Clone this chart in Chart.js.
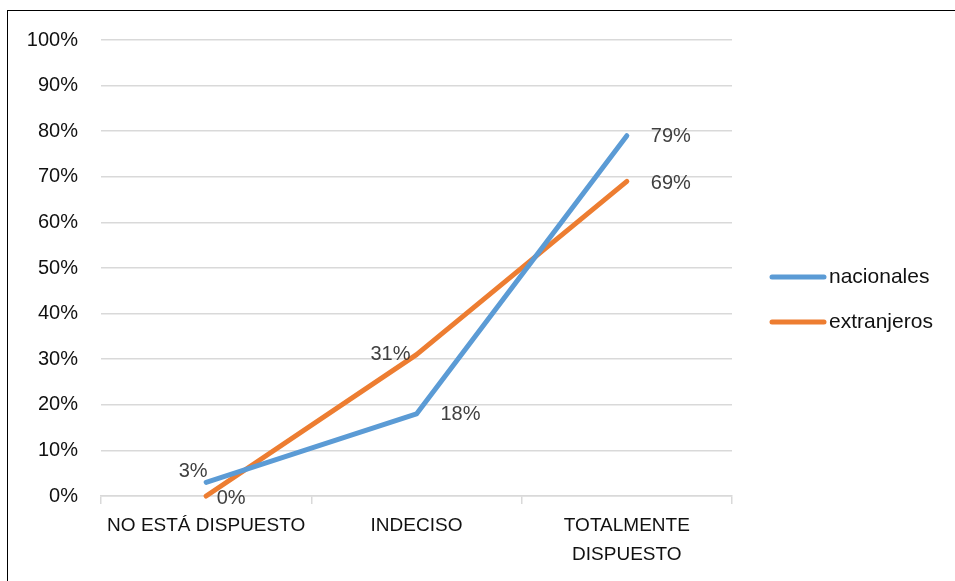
<!DOCTYPE html>
<html>
<head>
<meta charset="utf-8">
<script src="https://cdn.jsdelivr.net/npm/chart.js@4"></script>
<style>
  html, body { margin:0; padding:0; background:#fff; }
  #wrap { position:relative; width:955px; height:581px; }
  #frame { position:absolute; left:7px; top:10px; width:960px; height:600px; border:1.5px solid #000; box-sizing:border-box; pointer-events:none; }
</style>
</head>
<body>
<div id="wrap">
  <canvas id="chart" width="955" height="581"></canvas>
  <div id="frame"></div>
</div>
<script>
// data (percent)
const categories = ['NO ESTÁ DISPUESTO', 'INDECISO', ['TOTALMENTE', 'DISPUESTO']];
const nacionales = [3, 18, 79];
const extranjeros = [0, 31, 69];
const yTicks = [0, 10, 20, 30, 40, 50, 60, 70, 80, 90, 100];

const FONT = '"Liberation Sans", Arial, sans-serif';

// value labels next to each point, offsets in px
const pointLabels = {
  id: 'pointLabels',
  afterDatasetsDraw(chart) {
    const ctx = chart.ctx;
    ctx.save();
    ctx.font = '20px ' + FONT;
    ctx.fillStyle = '#404040';
    ctx.textAlign = 'center';
    ctx.textBaseline = 'middle';
    chart.data.datasets.forEach((ds, i) => {
      chart.getDatasetMeta(i).data.forEach((pt, j) => {
        const off = ds.labelOffsets[j];
        ctx.fillText(ds.data[j] + '%', pt.x + off[0], pt.y + off[1]);
      });
    });
    ctx.restore();
  }
};

// legend on the right, line swatches
const sideLegend = {
  id: 'sideLegend',
  afterDraw(chart) {
    const ctx = chart.ctx;
    ctx.save();
    ctx.font = '21px ' + FONT;
    ctx.textBaseline = 'middle';
    ctx.lineCap = 'round';
    chart.data.datasets.forEach((ds, i) => {
      const y = 277 + i * 45;
      ctx.strokeStyle = ds.borderColor;
      ctx.lineWidth = 5;
      ctx.beginPath(); ctx.moveTo(772, y); ctx.lineTo(824, y); ctx.stroke();
      ctx.fillStyle = '#111';
      ctx.fillText(ds.label, 829, y);
    });
    ctx.restore();
  }
};

new Chart(document.getElementById('chart'), {
  type: 'line',
  data: {
    labels: categories,
    datasets: [
      { label: 'nacionales', data: nacionales, borderColor: '#5B9BD5', borderWidth: 5, clip: false,
        pointRadius: 0, tension: 0, borderCapStyle: 'round', borderJoinStyle: 'round',
        labelOffsets: [[-13, -11], [44, 1], [44, 1]] },
      { label: 'extranjeros', data: extranjeros, borderColor: '#ED7D31', borderWidth: 5, clip: false,
        pointRadius: 0, tension: 0, borderCapStyle: 'round', borderJoinStyle: 'round',
        labelOffsets: [[25, 2], [-26, 0], [44, 2]] }
    ]
  },
  options: {
    responsive: false,
    animation: false,
    layout: { padding: { top: 40, right: 223, left: 0, bottom: 0 } },
    plugins: { legend: { display: false }, tooltip: { enabled: false } },
    scales: {
      x: {
        offset: true,
        grid: { offset: true, drawOnChartArea: false, drawTicks: true, tickLength: 8, color: '#d9d9d9', lineWidth: 1.5 },
        border: { color: '#d9d9d9', width: 1.5 },
        ticks: { color: '#111', font: { family: FONT, size: 19, lineHeight: 1.5 }, padding: 8, maxRotation: 0, autoSkip: false },
        afterFit(scale) { scale.height = 85; }
      },
      y: {
        min: 0, max: 100,
        afterBuildTicks(scale) { scale.ticks = yTicks.map(v => ({ value: v })); },
        grid: { color: '#d9d9d9', lineWidth: 1.5, drawTicks: false },
        border: { display: false },
        ticks: { color: '#111', font: { family: FONT, size: 20 }, padding: 23, callback: v => v + '%' },
        afterFit(scale) { scale.width = 101; }
      }
    }
  },
  plugins: [pointLabels, sideLegend]
});
</script>
</body>
</html>
